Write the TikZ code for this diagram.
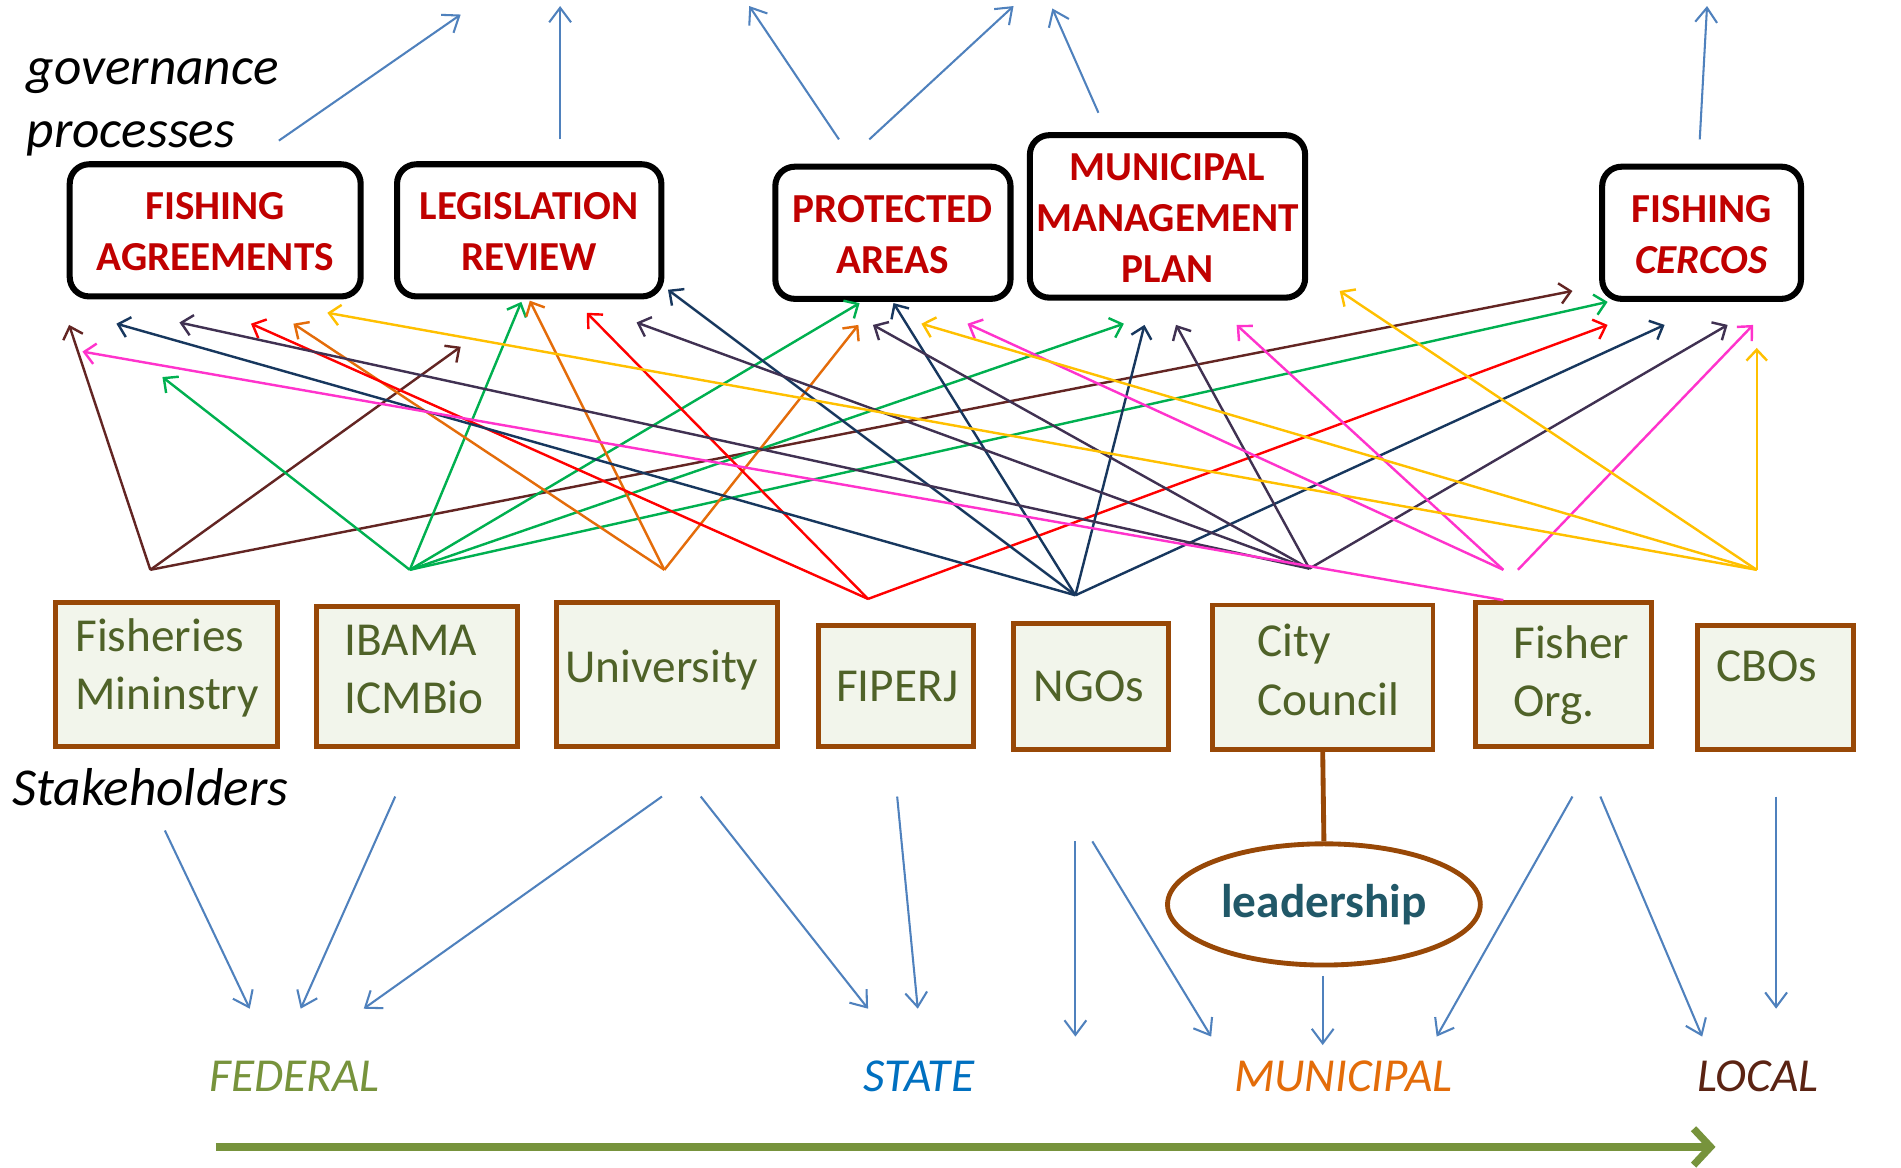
\documentclass[tikz,border=0pt]{standalone}
\usepackage{fontspec}
\setmainfont{Carlito}
\usetikzlibrary{arrows.meta,shapes.geometric}
\definecolor{dred}{HTML}{C00000}
\definecolor{sbrown}{HTML}{984807}
\definecolor{sfill}{HTML}{F2F5EB}
\definecolor{sgreen}{HTML}{4F6228}
\definecolor{fedc}{HTML}{77933C}
\definecolor{statec}{HTML}{0070C0}
\definecolor{munc}{HTML}{E36C09}
\definecolor{locc}{HTML}{5B2313}
\definecolor{leadc}{HTML}{215868}
\definecolor{blu}{HTML}{4F81BD}
\definecolor{cbrn}{HTML}{632523}
\definecolor{cgrn}{HTML}{00B050}
\definecolor{corg}{HTML}{E46C0A}
\definecolor{cred}{HTML}{FF0000}
\definecolor{cnav}{HTML}{17375E}
\definecolor{cpur}{HTML}{403152}
\definecolor{cpnk}{HTML}{FF33CC}
\definecolor{cyel}{HTML}{FFC000}
\newcommand\tstrut{\rule{0pt}{37.4pt}}
\begin{document}
\begin{tikzpicture}[x=1pt,y=-1pt,
 pbox/.style={draw=black,line width=5pt,rounded corners=16pt,fill=white,align=center,text=dred,font=\fontsize{34}{42}\selectfont\bfseries,inner sep=0pt},
 sbox/.style={draw=sbrown,line width=4pt,fill=sfill,inner sep=0pt},
 stxt/.style={text=sgreen,font=\fontsize{39}{48}\selectfont,inner sep=0pt,align=left},
 lvl/.style={font=\fontsize{39}{47}\selectfont\itshape,inner sep=0pt,anchor=base},
 lbl/.style={font=\fontsize{44}{52}\selectfont\itshape,inner sep=0pt,anchor=base west},
 conn/.style={line width=2pt,-{Straight Barb[length=9pt,width=17pt]}},
 bconn/.style={draw=blu,line width=1.7pt,-{Straight Barb[length=12pt,width=18pt]}}
]
\useasboundingbox (0,0) rectangle (1568,963);
\fill[white] (0,0) rectangle (1568,963);

% labels
\node[lbl] (gov1) at (22,70) {governance};
\node[lbl] (gov2) at (22,122) {processes};
\node[lbl] (stk) at (10,664) {Stakeholders};

% process boxes
\node[pbox,minimum width=240pt,minimum height=109pt] (fa) at (177.5,190) {\tstrut FISHING\\\strut AGREEMENTS};
\node[pbox,minimum width=218pt,minimum height=109pt] (lr) at (436.5,190) {\tstrut LEGISLATION\\\strut REVIEW};
\node[pbox,minimum width=194pt,minimum height=109pt] (pa) at (736.5,192) {\tstrut PROTECTED\\\strut AREAS};
\node[pbox,minimum width=227pt,minimum height=132pt] (mmp) at (963,178.5) {\tstrut MUNICIPAL\\\strut MANAGEMENT\\\strut PLAN};
\node[pbox,minimum width=164pt,minimum height=109pt] (fc) at (1403.5,192) {\tstrut FISHING\\\strut \textit{CERCOS}};

% stakeholder boxes
\node[sbox,minimum width=183pt,minimum height=119pt] (fm) at (137.5,556.5) {};
\node[sbox,minimum width=166pt,minimum height=116pt] (ib) at (344,558) {};
\node[sbox,minimum width=182pt,minimum height=119pt] (un) at (550,556.5) {};
\node[sbox,minimum width=128pt,minimum height=100pt] (fi) at (739,566) {};
\node[sbox,minimum width=128pt,minimum height=104pt] (ng) at (900,566) {};
\node[sbox,minimum width=182pt,minimum height=119pt] (cc) at (1091,558.5) {};
\node[sbox,minimum width=145pt,minimum height=119pt] (fo) at (1289.5,556.5) {};
\node[sbox,minimum width=129pt,minimum height=102pt] (cb) at (1464.5,567) {};

\node[stxt,anchor=north west] (fmt) at (62,503.5) {\strut Fisheries\\\strut Mininstry};
\node[stxt,anchor=north west] (ibt) at (284,506.5) {\strut IBAMA\\\strut ICMBio};
\node[stxt,anchor=base] (unt) at (546,563) {University};
\node[stxt,anchor=base] (fit) at (740,579) {FIPERJ};
\node[stxt,anchor=base] (ngt) at (898,579) {NGOs};
\node[stxt,anchor=north west] (cct) at (1037,508) {\strut City\\\strut Council};
\node[stxt,anchor=north west] (fot) at (1248,509.5) {\strut Fisher\\\strut Org.};
\node[stxt,anchor=base] (cbt) at (1457,562) {CBOs};

% leadership
\node[ellipse,draw=sbrown,line width=4pt,fill=white,minimum width=258pt,minimum height=100pt,inner sep=0pt,text=leadc,font=\fontsize{39}{46}\selectfont\bfseries] (lead) at (1092,746) {leadership};
\draw[sbrown,line width=4pt] (cc.south) -- (lead.north);

% levels
\node[lvl,text=fedc] (fed) at (243,900) {FEDERAL};
\node[lvl,text=statec] (sta) at (758,900) {STATE};
\node[lvl,text=munc] (mun) at (1108,900) {MUNICIPAL};
\node[lvl,text=locc] (loc) at (1450,900) {LOCAL};
\coordinate (ga) at (178,946);
\coordinate (gb) at (1415,946);
\draw[fedc,line width=6pt,-{Straight Barb[length=14pt,width=30pt]}] (ga) -- (gb);

% blue arrows
\foreach \i/\ax/\ay/\bx/\by in {1/230/116/380/12, 2/462/115/462/5, 3/692/115/618/5, 4/717/115/836/5, 5/906/93/868/7, 6/1402/115/1408/5, 7/136/685/206/832, 8/326/657/248/832, 9/546/657/300/832, 10/578/657/716/832, 11/740/657/757/832, 12/887/694/887/855, 13/901/694/999/855, 14/1091/805/1091/862, 15/1297/657/1185/855, 16/1320/657/1404/855, 17/1465/657/1465/832}
{\coordinate (bs\i) at (\ax,\ay); \coordinate (be\i) at (\bx,\by); \draw[bconn] (bs\i) -- (be\i);}

% hubs
\coordinate (hFM) at (124,470);
\coordinate (hIB) at (338,470);
\coordinate (hUN) at (548,470);
\coordinate (hFI) at (716,494);
\coordinate (hNG) at (887,491);
\coordinate (hCC) at (1080,469);
\coordinate (hFOa) at (1240,470);
\coordinate (hFOb) at (1252,470);
\coordinate (hFOc) at (1240,495);
\coordinate (hCB) at (1449,470);

\foreach \c/\h/\x/\y [count=\n] in {
cbrn/hFM/57/268, cbrn/hFM/380/286, cbrn/hFM/1297/240,
cgrn/hIB/134/311, cgrn/hIB/430/249, cgrn/hIB/709/250, cgrn/hIB/927/267, cgrn/hIB/1326/249,
corg/hUN/242/267, corg/hUN/437/248, corg/hUN/708/268,
cred/hFI/207/267, cred/hFI/484/258, cred/hFI/1326/268,
cnav/hNG/96/267, cnav/hNG/551/239, cnav/hNG/737/250, cnav/hNG/944/268, cnav/hNG/1373/268,
cpur/hCC/148/266, cpur/hCC/525/266, cpur/hCC/720/268, cpur/hCC/970/268, cpur/hCC/1425/268,
cpnk/hFOc/68/290, cpnk/hFOa/798/267, cpnk/hFOa/1020/268, cpnk/hFOb/1446/268,
cyel/hCB/270/258, cyel/hCB/760/267, cyel/hCB/1105/240, cyel/hCB/1449/287}
{\coordinate (t\n) at (\x,\y); \draw[conn,draw=\c] (\h) -- (t\n);}
\end{tikzpicture}
\end{document}
